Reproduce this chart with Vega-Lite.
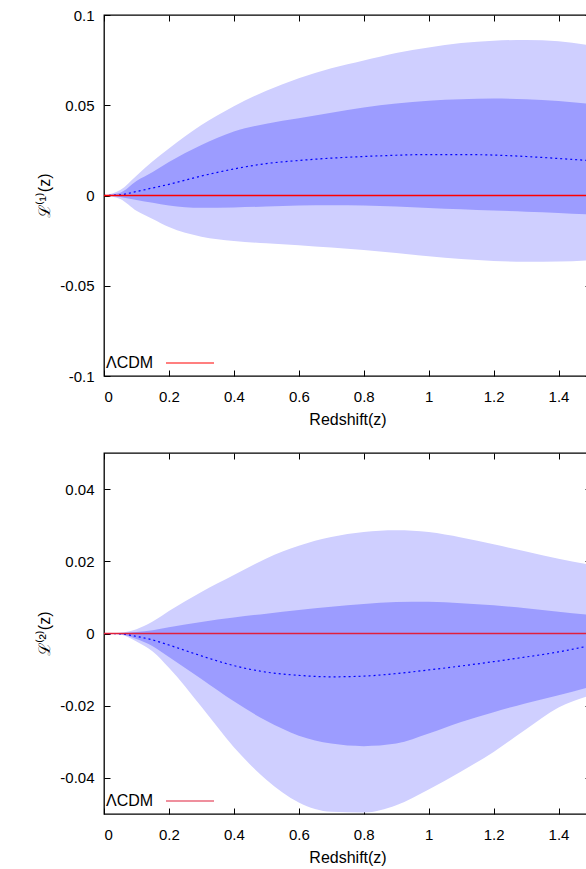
{
  "$schema": "https://vega.github.io/schema/vega-lite/v6.json",
  "background": "white",
  "padding": {"left": 36, "top": 7, "right": 0, "bottom": 0},
  "datasets": {
    "top": [
      {"z": 0, "lo2": 0, "lo1": 0, "mid": 0, "hi1": 0, "hi2": 0},
      {"z": 0.05, "lo2": -0.002, "lo1": -0.0008, "mid": 0.0004, "hi1": 0.0015, "hi2": 0.003},
      {"z": 0.1, "lo2": -0.0085, "lo1": -0.0025, "mid": 0.0022, "hi1": 0.008, "hi2": 0.011},
      {"z": 0.15, "lo2": -0.013, "lo1": -0.004, "mid": 0.0042, "hi1": 0.013, "hi2": 0.019},
      {"z": 0.2, "lo2": -0.0175, "lo1": -0.0055, "mid": 0.0062, "hi1": 0.0185, "hi2": 0.026},
      {"z": 0.3, "lo2": -0.0228, "lo1": -0.0068, "mid": 0.0108, "hi1": 0.028, "hi2": 0.039},
      {"z": 0.4, "lo2": -0.0252, "lo1": -0.0066, "mid": 0.0147, "hi1": 0.0355, "hi2": 0.0495},
      {"z": 0.5, "lo2": -0.0265, "lo1": -0.0061, "mid": 0.0177, "hi1": 0.0398, "hi2": 0.058},
      {"z": 0.6, "lo2": -0.0275, "lo1": -0.0055, "mid": 0.0194, "hi1": 0.0428, "hi2": 0.065},
      {"z": 0.7, "lo2": -0.0288, "lo1": -0.0054, "mid": 0.0207, "hi1": 0.0458, "hi2": 0.0705},
      {"z": 0.8, "lo2": -0.0302, "lo1": -0.0056, "mid": 0.0216, "hi1": 0.0488, "hi2": 0.0748},
      {"z": 0.9, "lo2": -0.0318, "lo1": -0.0061, "mid": 0.0223, "hi1": 0.051, "hi2": 0.079},
      {"z": 1.0, "lo2": -0.0337, "lo1": -0.0069, "mid": 0.0227, "hi1": 0.0525, "hi2": 0.082},
      {"z": 1.1, "lo2": -0.0352, "lo1": -0.0076, "mid": 0.0227, "hi1": 0.0533, "hi2": 0.0845},
      {"z": 1.2, "lo2": -0.0363, "lo1": -0.0083, "mid": 0.0224, "hi1": 0.0537, "hi2": 0.0858},
      {"z": 1.3, "lo2": -0.0367, "lo1": -0.009, "mid": 0.0216, "hi1": 0.0533, "hi2": 0.0862},
      {"z": 1.4, "lo2": -0.0366, "lo1": -0.0097, "mid": 0.0205, "hi1": 0.0524, "hi2": 0.0855},
      {"z": 1.5, "lo2": -0.0358, "lo1": -0.0106, "mid": 0.0193, "hi1": 0.0506, "hi2": 0.083}
    ],
    "bottom": [
      {"z": 0, "lo2": 0, "lo1": 0, "mid": 0, "hi1": 0, "hi2": 0},
      {"z": 0.05, "lo2": -0.0003, "lo1": -0.0002, "mid": -0.0001, "hi1": 0.0001, "hi2": 0.0002},
      {"z": 0.1, "lo2": -0.0022, "lo1": -0.0015, "mid": -0.0008, "hi1": 0.0004, "hi2": 0.0012},
      {"z": 0.15, "lo2": -0.005, "lo1": -0.0035, "mid": -0.0018, "hi1": 0.0009, "hi2": 0.0033},
      {"z": 0.2, "lo2": -0.0095, "lo1": -0.0065, "mid": -0.0032, "hi1": 0.0017, "hi2": 0.0062},
      {"z": 0.3, "lo2": -0.0203, "lo1": -0.0126, "mid": -0.0062, "hi1": 0.0032, "hi2": 0.0115},
      {"z": 0.4, "lo2": -0.0315, "lo1": -0.0188, "mid": -0.0089, "hi1": 0.0044, "hi2": 0.0162},
      {"z": 0.5, "lo2": -0.0405, "lo1": -0.0242, "mid": -0.0107, "hi1": 0.0055, "hi2": 0.0208},
      {"z": 0.6, "lo2": -0.0468, "lo1": -0.0283, "mid": -0.0116, "hi1": 0.0065, "hi2": 0.0243},
      {"z": 0.7, "lo2": -0.0494, "lo1": -0.0305, "mid": -0.012, "hi1": 0.0074, "hi2": 0.0267},
      {"z": 0.8, "lo2": -0.0496, "lo1": -0.0312, "mid": -0.0118, "hi1": 0.0082, "hi2": 0.0281},
      {"z": 0.9, "lo2": -0.0476, "lo1": -0.0305, "mid": -0.0111, "hi1": 0.0087, "hi2": 0.0286},
      {"z": 1.0, "lo2": -0.0432, "lo1": -0.0277, "mid": -0.0101, "hi1": 0.0088, "hi2": 0.0281},
      {"z": 1.1, "lo2": -0.0382, "lo1": -0.0245, "mid": -0.009, "hi1": 0.0084, "hi2": 0.0266},
      {"z": 1.2, "lo2": -0.0328, "lo1": -0.0218, "mid": -0.0078, "hi1": 0.0078, "hi2": 0.0247},
      {"z": 1.3, "lo2": -0.0265, "lo1": -0.0193, "mid": -0.0065, "hi1": 0.007, "hi2": 0.0227},
      {"z": 1.4, "lo2": -0.0205, "lo1": -0.0171, "mid": -0.0051, "hi1": 0.006, "hi2": 0.0207},
      {"z": 1.5, "lo2": -0.0171, "lo1": -0.0147, "mid": -0.0033, "hi1": 0.0051, "hi2": 0.019}
    ],
    "lcdm": [
      {"z": 0, "v": 0, "model": "ΛCDM"},
      {"z": 1.5, "v": 0, "model": "ΛCDM"}
    ]
  },
  "spacing": 23,
  "resolve": {"scale": {"color": "independent"}},
  "vconcat": [
    {
      "width": 487,
      "height": 361,
      "data": {"name": "top"},
      "resolve": {"axis": {"x": "independent", "y": "independent"}},
      "layer": [
        {
          "mark": {"type": "area", "color": "#cfcfff", "opacity": 1, "interpolate": "monotone"},
          "encoding": {
            "x": {"field": "z", "type": "quantitative", "scale": {"domain": [0, 1.5], "nice": false, "zero": false},
                  "axis": {"orient": "bottom", "title": "Redshift(z)", "values": [0, 0.2, 0.4, 0.6, 0.8, 1, 1.2, 1.4], "labelExpr": "'' + datum.value"}},
            "y": {"field": "lo2", "type": "quantitative", "scale": {"domain": [-0.1, 0.1], "nice": false, "zero": false},
                  "axis": {"orient": "left", "title": "ℒ⁽¹⁾(z)", "values": [-0.1, -0.05, 0, 0.05, 0.1], "labelExpr": "'' + datum.value"}},
            "y2": {"field": "hi2"}
          }
        },
        {
          "mark": {"type": "area", "color": "#9c9cff", "opacity": 1, "interpolate": "monotone"},
          "encoding": {
            "x": {"field": "z", "type": "quantitative", "axis": {"orient": "top", "title": null, "labels": false, "values": [0, 0.2, 0.4, 0.6, 0.8, 1, 1.2, 1.4]}},
            "y": {"field": "lo1", "type": "quantitative", "axis": {"orient": "right", "title": null, "labels": false, "values": [-0.1, -0.05, 0, 0.05, 0.1]}},
            "y2": {"field": "hi1"}
          }
        },
        {
          "mark": {"type": "line", "color": "#0000ff", "strokeDash": [2, 3], "strokeWidth": 1.2, "interpolate": "monotone"},
          "encoding": {
            "x": {"field": "z", "type": "quantitative", "axis": null},
            "y": {"field": "mid", "type": "quantitative", "axis": null}
          }
        },
        {
          "data": {"name": "lcdm"},
          "mark": {"type": "line", "strokeWidth": 1.5, "opacity": 1},
          "encoding": {
            "x": {"field": "z", "type": "quantitative", "axis": null},
            "y": {"field": "v", "type": "quantitative", "axis": null},
            "color": {"field": "model", "type": "nominal", "scale": {"range": ["#ff0000"]},
                      "legend": {"title": null, "orient": "none", "legendX": 1, "legendY": 323, "symbolType": "stroke", "symbolSize": 2304, "symbolStrokeWidth": 1.2, "symbolOffset": 60, "labelOffset": -109, "labelFontSize": 16, "padding": 0}}
          }
        }
      ]
    },
    {
      "width": 487,
      "height": 361,
      "data": {"name": "bottom"},
      "resolve": {"axis": {"x": "independent", "y": "independent"}},
      "layer": [
        {
          "mark": {"type": "area", "color": "#cfcfff", "opacity": 1, "interpolate": "monotone"},
          "encoding": {
            "x": {"field": "z", "type": "quantitative", "scale": {"domain": [0, 1.5], "nice": false, "zero": false},
                  "axis": {"orient": "bottom", "title": "Redshift(z)", "values": [0, 0.2, 0.4, 0.6, 0.8, 1, 1.2, 1.4], "labelExpr": "'' + datum.value"}},
            "y": {"field": "lo2", "type": "quantitative", "scale": {"domain": [-0.05, 0.05], "nice": false, "zero": false},
                  "axis": {"orient": "left", "title": "ℒ⁽²⁾(z)", "values": [-0.04, -0.02, 0, 0.02, 0.04], "labelExpr": "'' + datum.value"}},
            "y2": {"field": "hi2"}
          }
        },
        {
          "mark": {"type": "area", "color": "#9c9cff", "opacity": 1, "interpolate": "monotone"},
          "encoding": {
            "x": {"field": "z", "type": "quantitative", "axis": {"orient": "top", "title": null, "labels": false, "values": [0, 0.2, 0.4, 0.6, 0.8, 1, 1.2, 1.4]}},
            "y": {"field": "lo1", "type": "quantitative", "axis": {"orient": "right", "title": null, "labels": false, "values": [-0.04, -0.02, 0, 0.02, 0.04]}},
            "y2": {"field": "hi1"}
          }
        },
        {
          "mark": {"type": "line", "color": "#0000ff", "strokeDash": [2, 3], "strokeWidth": 1.2, "interpolate": "monotone"},
          "encoding": {
            "x": {"field": "z", "type": "quantitative", "axis": null},
            "y": {"field": "mid", "type": "quantitative", "axis": null}
          }
        },
        {
          "data": {"name": "lcdm"},
          "mark": {"type": "line", "strokeWidth": 1.5, "opacity": 1},
          "encoding": {
            "x": {"field": "z", "type": "quantitative", "axis": null},
            "y": {"field": "v", "type": "quantitative", "axis": null},
            "color": {"field": "model", "type": "nominal", "scale": {"range": ["#e0203c"]},
                      "legend": {"title": null, "orient": "none", "legendX": 1, "legendY": 323, "symbolType": "stroke", "symbolSize": 2304, "symbolStrokeWidth": 1.2, "symbolOffset": 60, "labelOffset": -109, "labelFontSize": 16, "padding": 0}}
          }
        }
      ]
    }
  ],
  "config": {
    "font": "Liberation Sans",
    "view": {"stroke": "#000000", "strokeWidth": 1.3},
    "axis": {
      "domain": false,
      "grid": false,
      "zindex": 1,
      "offset": -6,
      "tickColor": "#000000",
      "tickSize": 6,
      "tickWidth": 1,
      "labelFontSize": 15,
      "labelColor": "#000000",
      "labelPadding": 13,
      "titleFontSize": 16,
      "titleFontWeight": "normal",
      "titleColor": "#000000",
      "titlePadding": 7
    },
    "axisY": {"labelPadding": 10},
    "legend": {"labelColor": "#000000"}
  }
}
